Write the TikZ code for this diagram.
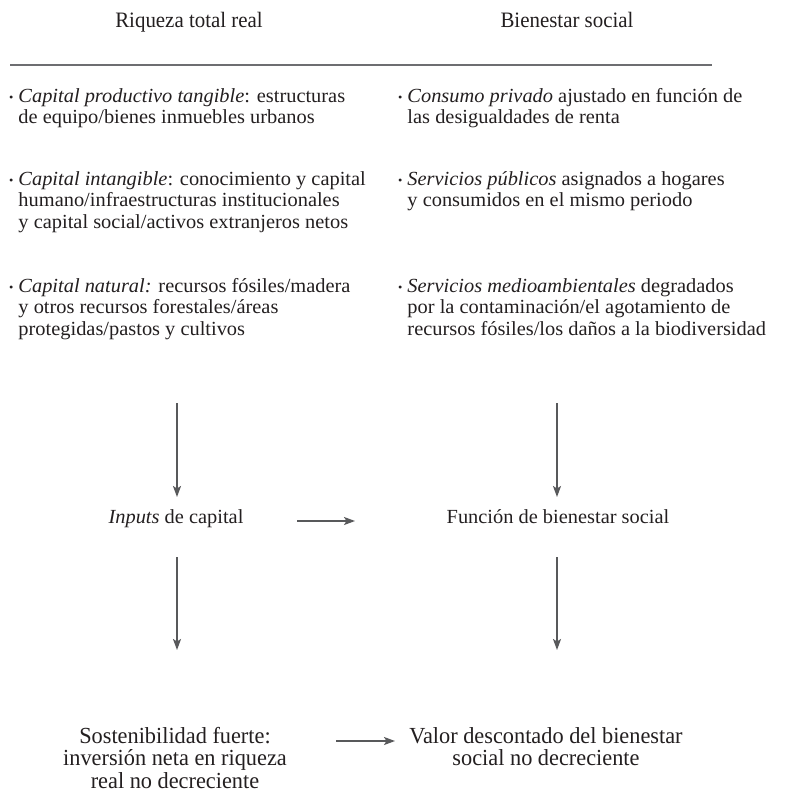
\documentclass[tikz,border=0pt]{standalone}
\usepackage{fontspec}
\setmainfont{Liberation Serif}
\newfontfamily\bodyfont{Liberation Serif}[FakeStretch=1.02]
\newfontfamily\headfont{Liberation Serif}[FakeStretch=0.95]
\newfontfamily\lowfont{Liberation Serif}[FakeStretch=0.97]
\usetikzlibrary{arrows.meta}
\definecolor{ink}{HTML}{231F20}
\definecolor{arrowgray}{HTML}{58595B}
\definecolor{rulegray}{HTML}{6D6E71}
\newcommand\bdot{\raisebox{1.2pt}{\fontsize{12}{12}\selectfont\textbullet}}
\begin{document}
\begin{tikzpicture}[x=1pt,y=-1pt,
  bul/.style={font=\bodyfont\fontsize{20}{21.5}\selectfont, text=ink, inner sep=0pt, anchor=mid west},
  midtxt/.style={font=\bodyfont\fontsize{20}{21.5}\selectfont, text=ink, inner sep=0pt, anchor=mid},
  hd/.style={font=\headfont\fontsize{22}{21}\selectfont, text=ink, inner sep=0pt, anchor=mid},
  low/.style={font=\lowfont\fontsize{23}{21.5}\selectfont, text=ink, inner sep=0pt, anchor=mid},
  arr/.style={draw=arrowgray, line width=1.5pt, -{Stealth[length=11pt,width=8pt,inset=2.5pt]}},
]
\useasboundingbox[fill=white] (0,0) rectangle (789,792);

% headers
\node[hd] (h1) at (189,25) {Riqueza total real};
\node[hd] (h2) at (567,25) {Bienestar social};
\coordinate (r1) at (10,65);
\coordinate (r2) at (712,65);
\draw[draw=rulegray, line width=1.2pt] (r1) -- (r2);

% left bullets
\node[bul] (lt) at (9,100) {\begin{tabular}[t]{@{}l@{\hspace{5pt}}l@{}}\bdot & \textit{Capital productivo tangible}: estructuras\\ & de equipo/bienes inmuebles urbanos\end{tabular}};
\node[bul] (li) at (9,183) {\begin{tabular}[t]{@{}l@{\hspace{5pt}}l@{}}\bdot & \textit{Capital intangible}: conocimiento y capital\\ & humano/infraestructuras institucionales\\ & y capital social/activos extranjeros netos\end{tabular}};
\node[bul] (ln) at (9,290) {\begin{tabular}[t]{@{}l@{\hspace{5pt}}l@{}}\bdot & \textit{Capital natural:} recursos fósiles/madera\\ & y otros recursos forestales/áreas\\ & protegidas/pastos y cultivos\end{tabular}};

% right bullets
\node[bul] (rc) at (398,100) {\begin{tabular}[t]{@{}l@{\hspace{5pt}}l@{}}\bdot & \textit{Consumo privado} ajustado en función de\\ & las desigualdades de renta\end{tabular}};
\node[bul] (rs) at (398,183) {\begin{tabular}[t]{@{}l@{\hspace{5pt}}l@{}}\bdot & \textit{Servicios públicos} asignados a hogares\\ & y consumidos en el mismo periodo\end{tabular}};
\node[bul] (rm) at (398,290) {\begin{tabular}[t]{@{}l@{\hspace{5pt}}l@{}}\bdot & \textit{Servicios medioambientales} degradados\\ & por la contaminación/el agotamiento de\\ & recursos fósiles/los daños a la biodiversidad\end{tabular}};

% middle row
\node[midtxt] (inp) at (176,521) {\textit{Inputs} de capital};
\node[midtxt] (fun) at (558,521) {Función de bienestar social};

% bottom row
\node[low] (sos) at (175,741) {\begin{tabular}[t]{@{}c@{}}Sostenibilidad fuerte:\\ inversión neta en riqueza\\ real no decreciente\end{tabular}};
\node[low] (val) at (546,741) {\begin{tabular}[t]{@{}c@{}}Valor descontado del bienestar\\ social no decreciente\end{tabular}};

% arrows
\coordinate (a1s) at (177,403); \coordinate (a1e) at (177,497);
\coordinate (b1s) at (557,403); \coordinate (b1e) at (557,497);
\coordinate (a2s) at (177,557); \coordinate (a2e) at (177,650);
\coordinate (b2s) at (557,557); \coordinate (b2e) at (557,650);
\coordinate (h1s) at (297,521); \coordinate (h1e) at (355,521);
\coordinate (h2s) at (336,741); \coordinate (h2e) at (395,741);
\draw[arr] (a1s) -- (a1e);
\draw[arr] (b1s) -- (b1e);
\draw[arr] (a2s) -- (a2e);
\draw[arr] (b2s) -- (b2e);
\draw[arr] (h1s) -- (h1e);
\draw[arr] (h2s) -- (h2e);
\end{tikzpicture}
\end{document}
